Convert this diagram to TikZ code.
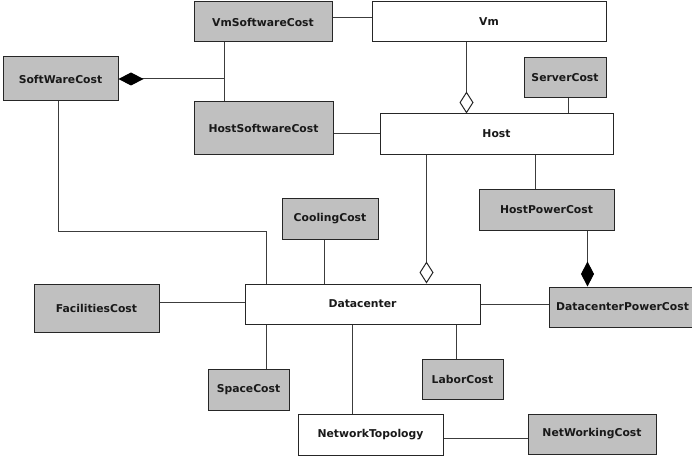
\documentclass[tikz,border=0pt]{standalone}
\usepackage{fontspec}
\setmainfont{DejaVu Sans}
\usetikzlibrary{arrows.meta}
\definecolor{boxgray}{RGB}{192,192,192}
\definecolor{linecol}{RGB}{60,60,60}
\tikzset{
  cls/.style={draw=black!85, line width=1pt, inner sep=0pt, font=\fontsize{10.8}{12}\selectfont\bfseries, text=black!90},
  gbox/.style={cls, fill=boxgray},
  wbox/.style={cls, fill=white},
  conn/.style={draw=linecol, line width=1pt},
  agg/.style={conn, -{Diamond[open, length=22pt, width=14pt, line width=1pt, color=black!85, fill=white]}},
  comp/.style={conn, -{Diamond[length=25pt, width=13pt, color=black]}},
}
\begin{document}
\begin{tikzpicture}[x=1pt, y=-1pt]
\useasboundingbox (0,0) rectangle (692,457);
\fill[white] (0,0) rectangle (692,457);
% nodes
\node[gbox, minimum width=138pt, minimum height=40pt] (vmsw) at (263,22) {VmSoftwareCost};
\node[wbox, minimum width=234pt, minimum height=40pt] (vm) at (489,22) {Vm};
\node[gbox, minimum width=115pt, minimum height=44pt] (swc) at (60.5,79) {SoftWareCost};
\node[gbox, minimum width=139pt, minimum height=52pt] (hsw) at (263.5,128) {HostSoftwareCost};
\node[gbox, minimum width=82pt, minimum height=40pt] (server) at (565,78) {ServerCost};
\node[wbox, minimum width=233pt, minimum height=40pt] (host) at (496.5,134) {Host};
\node[gbox, minimum width=96pt, minimum height=41pt] (cool) at (330,218.5) {CoolingCost};
\node[gbox, minimum width=135pt, minimum height=41pt] (hpc) at (546.5,209.5) {HostPowerCost};
\node[gbox, minimum width=125pt, minimum height=48pt] (fac) at (96.5,308) {FacilitiesCost};
\node[wbox, minimum width=235pt, minimum height=40pt] (dc) at (362.5,304) {Datacenter};
\node[gbox, minimum width=147pt, minimum height=40pt] (dcpc) at (622.5,307) {DatacenterPowerCost};
\node[gbox, minimum width=81pt, minimum height=41pt] (space) at (248.5,389.5) {SpaceCost};
\node[gbox, minimum width=81pt, minimum height=40pt] (labor) at (462.5,379) {LaborCost};
\node[wbox, minimum width=145pt, minimum height=41pt] (nt) at (370.5,434.5) {NetworkTopology};
\node[gbox, minimum width=128pt, minimum height=40pt] (nwc) at (592,434) {NetWorkingCost};
% helper coordinates
\coordinate (swj) at ([xshift=31pt]vmsw.south west |- swc.east);
\coordinate (bend) at (swc.south |- 0,231);
% connectors
\draw[conn] ([yshift=4pt]vmsw.east) -- ([yshift=4pt]vm.west);
\draw[conn] ([xshift=31pt]vmsw.south west) -- ([xshift=31pt]hsw.north west);
\draw[comp] (swj) -- (swc.east);
\draw[conn] ([xshift=-2.5pt]swc.south) -- ([xshift=-2.5pt]bend) -| ([xshift=22pt]dc.north west);
\draw[agg] ([xshift=95pt]vm.south west) -- ([xshift=87pt]host.north west);
\draw[conn] ([xshift=45pt]server.south west) -- ([xshift=45pt]server.south west |- host.north);
\draw[conn] (host.west -| hsw.east) -- (host.west);
\draw[agg] ([xshift=47pt]host.south west) -- ([xshift=47pt]host.south west |- dc.north);
\draw[conn] ([xshift=156pt]host.south west) -- ([xshift=156pt]host.south west |- hpc.north);
\draw[comp] ([xshift=109pt]hpc.south west) -- ([xshift=109pt]hpc.south west |- dcpc.north);
\draw[conn] ([xshift=-6pt]cool.south) -- ([xshift=-6pt]cool.south |- dc.north);
\draw[conn] ([yshift=2pt]dc.west -| fac.east) -- ([yshift=2pt]dc.west);
\draw[conn] (dc.east) -- (dc.east -| dcpc.west);
\draw[conn] ([xshift=22pt]dc.south west) -- ([xshift=22pt]dc.south west |- space.north);
\draw[conn] ([xshift=108pt]dc.south west) -- ([xshift=108pt]dc.south west |- nt.north);
\draw[conn] ([xshift=212pt]dc.south west) -- ([xshift=212pt]dc.south west |- labor.north);
\draw[conn] ([yshift=-4pt]nt.east) -- ([yshift=-4pt]nt.east -| nwc.west);
\end{tikzpicture}
\end{document}
